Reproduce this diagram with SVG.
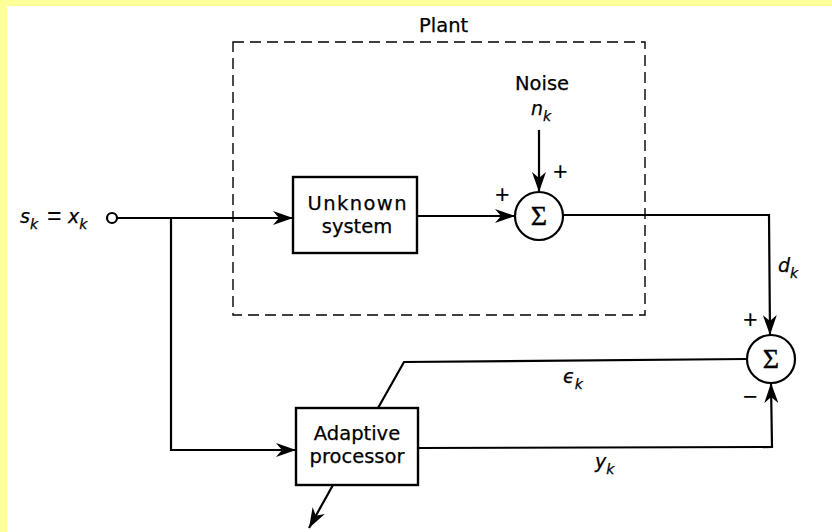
<svg xmlns="http://www.w3.org/2000/svg" width="832" height="532" viewBox="0 0 832 532">
<defs>
<marker id="arr" markerUnits="userSpaceOnUse" markerWidth="22" markerHeight="14" refX="20" refY="7" orient="auto">
<path d="M0,0 L20,7 L0,14 L6,7 Z" fill="#000"/>
</marker>
<style>
.bg{fill:#FFFF99}
.ln{fill:none;stroke:#000;stroke-width:2.2}
.box{fill:#fff;stroke:#000;stroke-width:2.4}
.dash{fill:none;stroke:#000;stroke-width:1.4;stroke-dasharray:11 6}
.t{font-family:"DejaVu Sans","Liberation Sans",sans-serif;font-size:19.5px;fill:#000;stroke:#000;stroke-width:0.25}
.i{font-family:"DejaVu Sans","Liberation Sans",sans-serif;font-size:19px;font-style:italic;fill:#000;stroke:#000;stroke-width:0.25}
.sub{font-size:14px}
.sig{font-family:"Liberation Serif","Times New Roman",serif;font-size:28px;fill:#000;stroke:#000;stroke-width:0.4}
.sg{font-family:"Liberation Sans",Arial,sans-serif;font-size:25px;fill:#000}
</style>
</defs>
<rect class="bg" x="0" y="0" width="832" height="532"/>
<rect x="7" y="6" width="825" height="526" fill="#fff"/>

<g id="plant">
<rect class="dash" x="233" y="42" width="412" height="273"/>
<text class="t" x="419" y="32">Plant</text>
</g>

<g id="connectors">
<line class="ln" x1="117" y1="218" x2="293" y2="218" marker-end="url(#arr)"/>
<polyline class="ln" points="171,218 171,450 296,450" marker-end="url(#arr)"/>
<line class="ln" x1="417" y1="216" x2="515" y2="216" marker-end="url(#arr)"/>
<line class="ln" x1="539" y1="130" x2="539" y2="192" marker-end="url(#arr)"/>
<polyline class="ln" points="563,215 769,215 770,335" marker-end="url(#arr)"/>
<polyline class="ln" points="378,408 404,362 746,359"/>
<polyline class="ln" points="418,448 772,447 771,383" marker-end="url(#arr)"/>
<line class="ln" x1="333" y1="485" x2="309" y2="528" marker-end="url(#arr)"/>
</g>

<g id="input">
<circle cx="112" cy="218" r="5" fill="#fff" stroke="#000" stroke-width="2.2"/>
<text class="i" x="20" y="223">s<tspan class="sub" dy="6">k</tspan></text>
<text class="sg" x="47" y="224">=</text>
<text class="i" x="68" y="223">x<tspan class="sub" dy="6">k</tspan></text>
</g>

<g id="unknown-system">
<rect class="box" x="293" y="177" width="124" height="76"/>
<text class="t" x="357" y="210" text-anchor="middle" textLength="99" lengthAdjust="spacing">Unknown</text>
<text class="t" x="357" y="233" text-anchor="middle">system</text>
</g>

<g id="noise">
<text class="t" x="542" y="90" text-anchor="middle">Noise</text>
<text class="i" x="531" y="115">n<tspan class="sub" dy="6">k</tspan></text>
<text class="sg" x="553" y="180">+</text>
<text class="sg" x="495" y="203">+</text>
</g>

<g id="sum1">
<circle cx="539" cy="216" r="24" fill="#fff" stroke="#000" stroke-width="2.2"/>
<text class="sig" x="539" y="225" text-anchor="middle">Σ</text>
</g>

<g id="sum2">
<circle cx="771" cy="359" r="24" fill="#fff" stroke="#000" stroke-width="2.2"/>
<text class="sig" x="771" y="368" text-anchor="middle">Σ</text>
<text class="sg" x="743" y="328">+</text>
<text class="sg" x="743" y="405">−</text>
</g>

<g id="adaptive-processor">
<rect class="box" x="296" y="408" width="122" height="77"/>
<text class="t" x="357" y="440" text-anchor="middle">Adaptive</text>
<text class="t" x="357" y="463" text-anchor="middle">processor</text>
</g>

<g id="labels">
<text class="i" x="778" y="272">d<tspan class="sub" dy="6">k</tspan></text>
<text class="i" x="563" y="383">ϵ<tspan class="sub" dy="6">k</tspan></text>
<text class="i" x="595" y="468">y<tspan class="sub" dy="6">k</tspan></text>
</g>
</svg>
